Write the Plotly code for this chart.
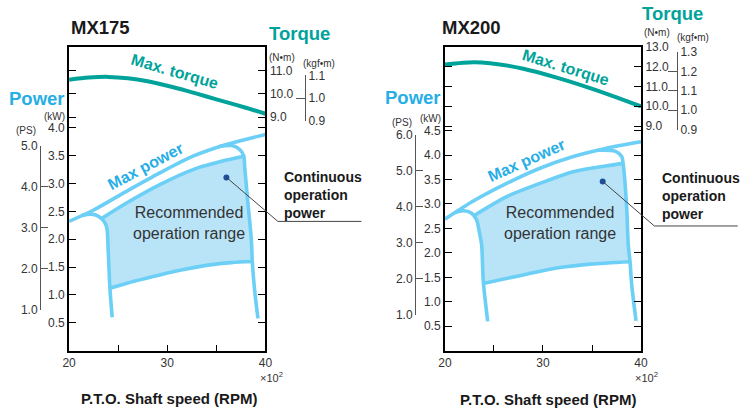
import plotly.graph_objects as go

FONT = "Liberation Sans, Arial, Helvetica, sans-serif"
TEAL = "#00a39a"
BLUE_LINE = "#6ccff6"
BLUE_TEXT = "#27aee6"
FILL = "#b9e4f8"
DOT = "#1d4f9a"
TXT = "#333333"
GRAY = "#555555"

NM_PER_KGFM = 9.80665
KW_PER_PS = 0.7355

# ---------------- MX175 ----------------
speed_torque_175 = [20, 22, 24, 26, 28, 30, 32, 34, 36, 38, 40]
torque_175 = [10.60, 10.69, 10.72, 10.66, 10.53, 10.34, 10.12, 9.88, 9.64, 9.40, 9.14]
speed_maxpow_175 = [20.0, 22.46, 25.85, 29.24, 32.62, 36.02, 40.0]
maxpow_175 = [2.32, 2.52, 2.86, 3.19, 3.49, 3.70, 3.88]
speed_left_175 = [21.3, 22.3, 23.1, 23.6, 23.85, 23.98, 24.16, 24.39]
left_175 = [2.43, 2.45, 2.40, 2.31, 2.20, 1.81, 1.12, 0.60]
speed_cont_175 = [23.3, 25.85, 29.24, 32.62, 36.02, 37.8]
cont_175 = [2.37, 2.65, 2.98, 3.25, 3.42, 3.49]
speed_right_175 = [35.3, 36.56, 37.37, 37.78, 37.88, 38.21, 38.56, 38.66, 38.89, 39.23]
right_175 = [3.67, 3.68, 3.61, 3.50, 3.30, 2.65, 1.99, 1.59, 1.09, 0.58]
speed_bottom_175 = [24.16, 26.7, 29.24, 31.8, 34.32, 36.5, 38.66]
bottom_175 = [1.12, 1.25, 1.36, 1.46, 1.54, 1.58, 1.60]
dot_175 = (36.02, 3.11)
leader_speed_175 = [36.02, 41.26, 49.77]
leader_kw_175 = [3.11, 2.32, 2.32]

kw_ticks_175 = [0.5, 1.0, 1.5, 2.0, 2.5, 3.0, 3.5, 4.0]
ps_ticks_175 = [1.0, 2.0, 3.0, 4.0, 5.0]
nm_ticks_175 = [9.0, 10.0, 11.0]
kgf_ticks_175 = [0.9, 1.0, 1.1]
kw_range_175 = [0, 5.45]
nm_range_175 = [-1.0, 12.0]

# ---------------- MX200 ----------------
speed_torque_200 = [20, 22.9, 24.6, 28.0, 31.4, 34.8, 37.5, 40]
torque_200 = [12.12, 12.23, 12.18, 11.90, 11.45, 10.92, 10.45, 9.99]
speed_maxpow_200 = [20.0, 22.89, 26.30, 29.69, 33.09, 36.5, 40.0]
maxpow_200 = [2.69, 3.06, 3.42, 3.73, 3.97, 4.14, 4.27]
speed_left_200 = [21.0, 21.87, 22.72, 23.23, 23.5, 23.74, 23.91, 24.36]
left_200 = [2.82, 2.86, 2.81, 2.67, 2.43, 2.16, 1.41, 0.60]
speed_cont_200 = [22.95, 26.30, 29.69, 33.09, 36.5, 38.15]
cont_200 = [2.76, 3.15, 3.42, 3.66, 3.78, 3.83]
speed_right_200 = [35.6, 37.35, 38.03, 38.19, 38.54, 38.70, 38.88, 39.05, 39.49]
right_200 = [4.10, 4.08, 3.97, 3.80, 2.91, 2.16, 1.82, 1.35, 0.61]
speed_bottom_200 = [24.01, 27.99, 31.40, 34.80, 38.88]
bottom_200 = [1.38, 1.55, 1.69, 1.77, 1.82]
dot_200 = (36.09, 3.46)
leader_speed_200 = [36.09, 41.36, 49.87]
leader_kw_200 = [3.46, 2.55, 2.55]

kw_ticks_200 = [0.5, 1.0, 1.5, 2.0, 2.5, 3.0, 3.5, 4.0, 4.5]
ps_ticks_200 = [1.0, 2.0, 3.0, 4.0, 5.0, 6.0]
nm_ticks_200 = [9.0, 10.0, 11.0, 12.0, 13.0]
kgf_ticks_200 = [0.9, 1.0, 1.1, 1.2, 1.3]
kw_range_200 = [0, 6.21]
nm_range_200 = [-2.36, 13.0001]

x_ticks = [20, 25, 30, 35, 40]
x_ticktext = ["20", "", "30", "", "40"]

# ---------------- layout geometry ----------------
Y_DOM = [0.1488, 0.886]
XL_DOM = [0.0931, 0.3578]
XR_DOM = [0.5997, 0.8639]


def wide(dom):
    return [dom[0], dom[0] + (dom[1] - dom[0]) * 1.5]


def sub_domain(lo, hi, rng):
    f = lambda v: Y_DOM[0] + (v - rng[0]) / (rng[1] - rng[0]) * (Y_DOM[1] - Y_DOM[0])
    return [f(lo), f(hi)]


def region(cx, cy, rx, ry, bx, by, lx, ly):
    xs = list(cx)
    ys = list(cy)
    for x, y in zip(rx, ry):
        if by[-1] < y < cy[-1]:
            xs.append(x); ys.append(y)
    xs += list(bx[::-1]); ys += list(by[::-1])
    for x, y in reversed(list(zip(lx, ly))):
        if by[0] < y < cy[0] and x > cx[0]:
            xs.append(x); ys.append(y)
    xs.append(cx[0]); ys.append(cy[0])
    return xs, ys


fig = go.Figure()


def add_panel(xa, ya, yt, yk, yp, xw, d):
    fx, fy = region(d["cx"], d["cy"], d["rx"], d["ry"], d["bx"], d["by"], d["lx"], d["ly"])
    fig.add_trace(go.Scatter(x=fx, y=fy, xaxis=xa, yaxis=ya, mode="lines", fill="toself",
                             fillcolor=FILL, line=dict(width=0), hoverinfo="skip"))
    for xs, ys in [(d["mx"], d["my"]), (d["lx"], d["ly"]), (d["cx"], d["cy"]),
                   (d["rx"], d["ry"]), (d["bx"], d["by"])]:
        fig.add_trace(go.Scatter(x=xs, y=ys, xaxis=xa, yaxis=ya, mode="lines",
                                 line=dict(color=BLUE_LINE, width=3.6, shape="spline", smoothing=0.8),
                                 hoverinfo="skip"))
    fig.add_trace(go.Scatter(x=d["tx"], y=d["ty"], xaxis=xa, yaxis=yt, mode="lines",
                             line=dict(color=TEAL, width=4, shape="spline", smoothing=0.8),
                             hoverinfo="skip"))
    fig.add_trace(go.Scatter(x=d["lsx"], y=d["lsy"], xaxis=xw, yaxis=ya, mode="lines",
                             line=dict(color="#444444", width=1), hoverinfo="skip"))
    fig.add_trace(go.Scatter(x=[d["dot"][0]], y=[d["dot"][1]], xaxis=xa, yaxis=ya, mode="markers",
                             marker=dict(color=DOT, size=6), hoverinfo="skip"))
    for yy in (yk, yp):
        fig.add_trace(go.Scatter(x=[None], y=[None], xaxis=xa, yaxis=yy, mode="markers",
                                 hoverinfo="skip"))


add_panel("x", "y", "y2", "y3", "y4", "x3", dict(
    mx=speed_maxpow_175, my=maxpow_175, lx=speed_left_175, ly=left_175,
    cx=speed_cont_175, cy=cont_175, rx=speed_right_175, ry=right_175,
    bx=speed_bottom_175, by=bottom_175, tx=speed_torque_175, ty=torque_175,
    lsx=leader_speed_175, lsy=leader_kw_175, dot=dot_175))
add_panel("x2", "y5", "y6", "y7", "y8", "x4", dict(
    mx=speed_maxpow_200, my=maxpow_200, lx=speed_left_200, ly=left_200,
    cx=speed_cont_200, cy=cont_200, rx=speed_right_200, ry=right_200,
    bx=speed_bottom_200, by=bottom_200, tx=speed_torque_200, ty=torque_200,
    lsx=leader_speed_200, lsy=leader_kw_200, dot=dot_200))

tickfont = dict(family=FONT, size=12, color=TXT)
base = dict(showgrid=False, zeroline=False, tickfont=tickfont, fixedrange=True, automargin=False)


def xaxis_def(dom, anchor):
    return dict(base, domain=dom, anchor=anchor, range=[20, 40], tickvals=x_ticks,
                ticktext=x_ticktext, ticks="inside", ticklen=6, tickcolor="black",
                showline=True, linecolor="black", linewidth=2, mirror=True)


def kw_axis(anchor, rng, tv):
    return dict(base, domain=Y_DOM, anchor=anchor, range=rng, tickvals=tv, tickformat=".1f",
                ticks="inside", ticklen=7, tickcolor="black", showline=True,
                linecolor="black", linewidth=2, mirror="ticks")


def nm_axis(anchor, over, rng, tv):
    return dict(base, anchor=anchor, overlaying=over, side="right", range=rng, tickvals=tv,
                tickformat=".1f", ticks="inside", ticklen=7, tickcolor="black", showline=True,
                linecolor="black", linewidth=2, mirror="ticks")


def bracket_axis(dom, rng, tv, pos, side):
    return dict(base, domain=dom, anchor="free", position=pos, side=side, range=rng,
                tickvals=tv, tickformat=".1f", ticks="inside", ticklen=9 if side == "right" else 7,
                tickcolor=GRAY, showline=True, linecolor=GRAY, linewidth=1)


layout_axes = dict(
    xaxis=xaxis_def(XL_DOM, "y"),
    xaxis2=xaxis_def(XR_DOM, "y5"),
    xaxis3=dict(domain=wide(XL_DOM), anchor="y", range=[20, 50], visible=False, fixedrange=True, automargin=False),
    xaxis4=dict(domain=wide(XR_DOM), anchor="y5", range=[20, 50], visible=False, fixedrange=True, automargin=False),
    yaxis=kw_axis("x", kw_range_175, kw_ticks_175),
    yaxis2=nm_axis("x", "y", nm_range_175, nm_ticks_175),
    yaxis3=bracket_axis(sub_domain(kgf_ticks_175[0] * NM_PER_KGFM, kgf_ticks_175[-1] * NM_PER_KGFM, nm_range_175),
                        [kgf_ticks_175[0], kgf_ticks_175[-1]], kgf_ticks_175, 305 / 742, "right"),
    yaxis4=bracket_axis(sub_domain(ps_ticks_175[0] * KW_PER_PS, ps_ticks_175[-1] * KW_PER_PS, kw_range_175),
                        [ps_ticks_175[0], ps_ticks_175[-1]], ps_ticks_175, 40 / 742, "left"),
    yaxis5=kw_axis("x2", kw_range_200, kw_ticks_200),
    yaxis6=nm_axis("x2", "y5", nm_range_200, nm_ticks_200),
    yaxis7=bracket_axis(sub_domain(kgf_ticks_200[0] * NM_PER_KGFM, kgf_ticks_200[-1] * NM_PER_KGFM, nm_range_200),
                        [kgf_ticks_200[0], kgf_ticks_200[-1]], kgf_ticks_200, 677 / 742, "right"),
    yaxis8=bracket_axis(sub_domain(ps_ticks_200[0] * KW_PER_PS, ps_ticks_200[-1] * KW_PER_PS, kw_range_200),
                        [ps_ticks_200[0], ps_ticks_200[-1]], ps_ticks_200, 415 / 742, "left"),
)

W, H = 742, 412


def ann(text, px, py, size, color="#222222", bold=False, xanchor="left", angle=0, align="left"):
    t = "<b>%s</b>" % text if bold else text
    return dict(text=t, x=px / W, y=1 - py / H, xref="paper", yref="paper", showarrow=False,
                xanchor=xanchor, yanchor="middle", textangle=angle, align=align,
                font=dict(family=FONT, size=size, color=color))


annotations = [
    # MX175
    ann("MX175", 69, 28, 18.5, "#1a1a1a", True),
    ann("Torque", 267, 34, 18.5, TEAL, True),
    ann("(N•m)", 267, 58, 10, TXT),
    ann("(kgf•m)", 301, 63, 10, TXT),
    ann("Power", 7, 98, 18.5, BLUE_TEXT, True),
    ann("(kW)", 67, 116, 10, TXT, xanchor="right"),
    ann("(PS)", 38, 130, 10, TXT, xanchor="right"),
    ann("Max. torque", 175, 71, 16, TEAL, True, "center", 16),
    ann("Max power", 145, 166, 16, BLUE_TEXT, True, "center", -28),
    ann("Recommended<br>operation range", 189, 223, 16, TXT, False, "center", 0, "center"),
    ann("Continuous<br>operation<br>power", 282, 195, 14, "#1a1a1a", True),
    ann("×10<sup>2</sup>", 258, 377, 11, TXT),
    ann("P.T.O. Shaft speed (RPM)", 169, 398, 15, "#1a1a1a", True, "center"),
    # MX200
    ann("MX200", 440, 28, 18.5, "#1a1a1a", True),
    ann("Torque", 640, 14, 18.5, TEAL, True),
    ann("(N•m)", 642, 33, 10, TXT),
    ann("(kgf•m)", 675, 38, 10, TXT),
    ann("Power", 383, 97, 18.5, BLUE_TEXT, True),
    ann("(kW)", 443, 118, 10, TXT, xanchor="right"),
    ann("(PS)", 414, 123, 10, TXT, xanchor="right"),
    ann("Max. torque", 566, 67, 16, TEAL, True, "center", 17),
    ann("Max power", 526, 160, 16, BLUE_TEXT, True, "center", -24),
    ann("Recommended<br>operation range", 560, 223, 16, TXT, False, "center", 0, "center"),
    ann("Continuous<br>operation<br>power", 660, 196, 14, "#1a1a1a", True),
    ann("×10<sup>2</sup>", 633, 377, 11, TXT),
    ann("P.T.O. Shaft speed (RPM)", 548, 399, 15, "#1a1a1a", True, "center"),
]

fig.update_layout(
    width=W, height=H, autosize=False,
    margin=dict(l=0, r=0, t=0, b=0, pad=0),
    paper_bgcolor="white", plot_bgcolor="rgba(0,0,0,0)",
    showlegend=False,
    font=dict(family=FONT, color=TXT),
    annotations=annotations,
    **layout_axes,
)

fig.write_html("out.html", config={"displayModeBar": False, "staticPlot": True},
               post_script="document.body.style.margin='0';document.body.style.overflow='hidden';")
